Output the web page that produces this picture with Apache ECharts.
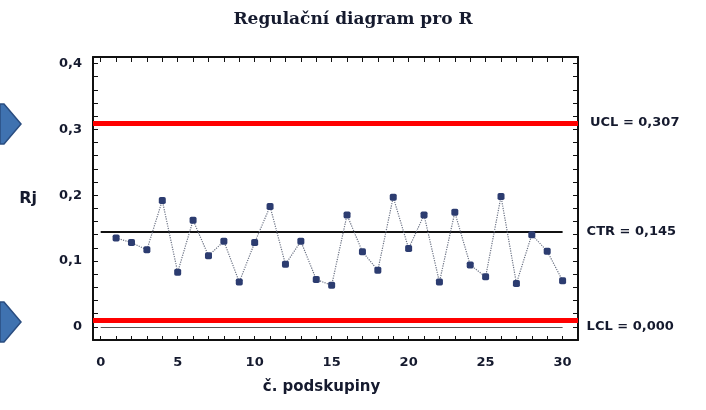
<!DOCTYPE html>
<html>
<head>
<meta charset="utf-8">
<script src="https://cdn.jsdelivr.net/npm/echarts@6/dist/echarts.min.js"></script>
<style>
html, body { margin: 0; padding: 0; background: #fff; }
#chart { width: 706px; height: 410px; }
</style>
</head>
<body>
<div id="chart"></div>
<script>
var chart = echarts.init(document.getElementById('chart'));

// subgroup number and range R for each subgroup
var subgroups = [1, 2, 3, 4, 5, 6, 7, 8, 9, 10, 11, 12, 13, 14, 15, 16, 17, 18, 19, 20, 21, 22, 23, 24, 25, 26, 27, 28, 29, 30];
var ranges = [0.135, 0.128, 0.117, 0.192, 0.083, 0.162, 0.108, 0.13, 0.068, 0.128, 0.183, 0.095, 0.13, 0.072, 0.063,
              0.17, 0.114, 0.086, 0.197, 0.119, 0.17, 0.068, 0.174, 0.094, 0.076, 0.198, 0.066, 0.14, 0.115, 0.07];

var xLabelValues = [0, 5, 10, 15, 20, 25, 30];
var xTickValues = [0, 1, 2, 3, 4, 5, 6, 7, 8, 9, 10, 11, 12, 13, 14, 15, 16, 17, 18, 19, 20, 21, 22, 23, 24, 25, 26, 27, 28, 29, 30];

var ucl = 0.307;
var ctr = 0.145;
var lcl = 0.000;
var lclRedLine = 0.008;   // red highlight drawn slightly above LCL in the picture

function comma(v, digits) {
    return v.toFixed(digits).replace('.', ',');
}

var font = 'DejaVu Sans';
var ink = '#151a2e';
var frame = { onZero: false, lineStyle: { color: '#111', width: 2 } };

var points = subgroups.map(function (s, i) { return [s, ranges[i]]; });

chart.setOption({
    animation: false,
    title: {
        text: 'Regulační diagram pro R',
        left: 'center',
        top: 6,
        textStyle: { fontFamily: 'DejaVu Serif', fontWeight: 'bold', fontSize: 17, color: ink },
    },
    grid: { left: 93, right: 128, top: 57, bottom: 70 },
    xAxis: [{
        type: 'value',
        min: -0.5,
        max: 31,
        name: 'č. podskupiny',
        nameLocation: 'middle',
        nameGap: 40,
        nameTextStyle: { fontFamily: font, fontWeight: 'bold', fontSize: 15, color: ink, padding: [0, 28, 0, 0] },
        axisLine: frame,
        axisTick: { inside: true, length: 4, customValues: xTickValues, lineStyle: { color: '#111' } },
        axisLabel: {
            customValues: xLabelValues,
            margin: 16,
            fontFamily: font, fontWeight: 'bold', fontSize: 13, color: ink,
        },
        splitLine: { show: false },
    }, {
        type: 'value',
        position: 'top',
        min: -0.5,
        max: 31,
        axisLine: frame,
        axisTick: { inside: true, length: 5, customValues: xTickValues, lineStyle: { color: '#111' } },
        axisLabel: { show: false },
        splitLine: { show: false },
    }],
    yAxis: [{
        type: 'value',
        min: -0.02,
        max: 0.41,
        interval: 0.02,
        name: 'Rj',
        nameLocation: 'middle',
        nameRotate: 0,
        nameGap: 56,
        nameTextStyle: { fontFamily: font, fontWeight: 'bold', fontSize: 16, color: ink },
        axisLine: frame,
        axisTick: { inside: true, length: 5, lineStyle: { color: '#111' } },
        axisLabel: {
            margin: 11,
            fontFamily: font, fontWeight: 'bold', fontSize: 13, color: ink,
            formatter: function (v) {
                var k = Math.round(v * 10);
                if (Math.abs(v * 10 - k) > 1e-6 || k < 0) return '';
                return k === 0 ? '0' : comma(k / 10, 1);
            },
        },
        splitLine: { show: false },
    }, {
        type: 'value',
        position: 'right',
        min: -0.02,
        max: 0.41,
        interval: 0.02,
        axisLine: frame,
        axisTick: { inside: true, length: 5, lineStyle: { color: '#111' } },
        axisLabel: { show: false },
        splitLine: { show: false },
    }],
    series: [{
        type: 'line',
        data: points,
        symbol: 'roundRect',
        symbolSize: 7,
        itemStyle: { color: '#2c3c70' },
        lineStyle: { color: '#6b7284', width: 1.2, type: 'dotted' },
        z: 5,
        markLine: {
            silent: true,
            symbol: ['none', 'none'],
            data: [
                [
                    { coord: [0, ctr], lineStyle: { color: '#111', width: 2, type: 'solid' },
                      label: { show: true, position: 'end', distance: 24, formatter: 'CTR = ' + comma(ctr, 3) } },
                    { coord: [30, ctr] }
                ],
                [
                    { coord: [0, lcl], lineStyle: { color: '#555', width: 1, type: 'solid' },
                      label: { show: true, position: 'end', distance: 24, formatter: 'LCL = ' + comma(lcl, 3) } },
                    { coord: [30, lcl] }
                ],
                { yAxis: ucl, lineStyle: { color: '#ff0000', width: 5, type: 'solid' },
                  label: { show: true, position: 'end', distance: 12, formatter: 'UCL = ' + comma(ucl, 3) } },
                { yAxis: lclRedLine, lineStyle: { color: '#ff0000', width: 5, type: 'solid' },
                  label: { show: false } },
            ],
            label: { fontFamily: font, fontWeight: 'bold', fontSize: 13, color: ink },
        },
    }],
    graphic: [{
        type: 'polygon',
        shape: { points: [[0, 104], [4, 104], [21, 124], [4, 144], [0, 144]] },
        style: { fill: '#3f72b0', stroke: '#2a4d80', lineWidth: 1.5 },
    }, {
        type: 'polygon',
        shape: { points: [[0, 302], [4, 302], [21, 322], [4, 342], [0, 342]] },
        style: { fill: '#3f72b0', stroke: '#2a4d80', lineWidth: 1.5 },
    }],
});

window.addEventListener('resize', function () {
    chart.resize();
});
</script>
</body>
</html>
